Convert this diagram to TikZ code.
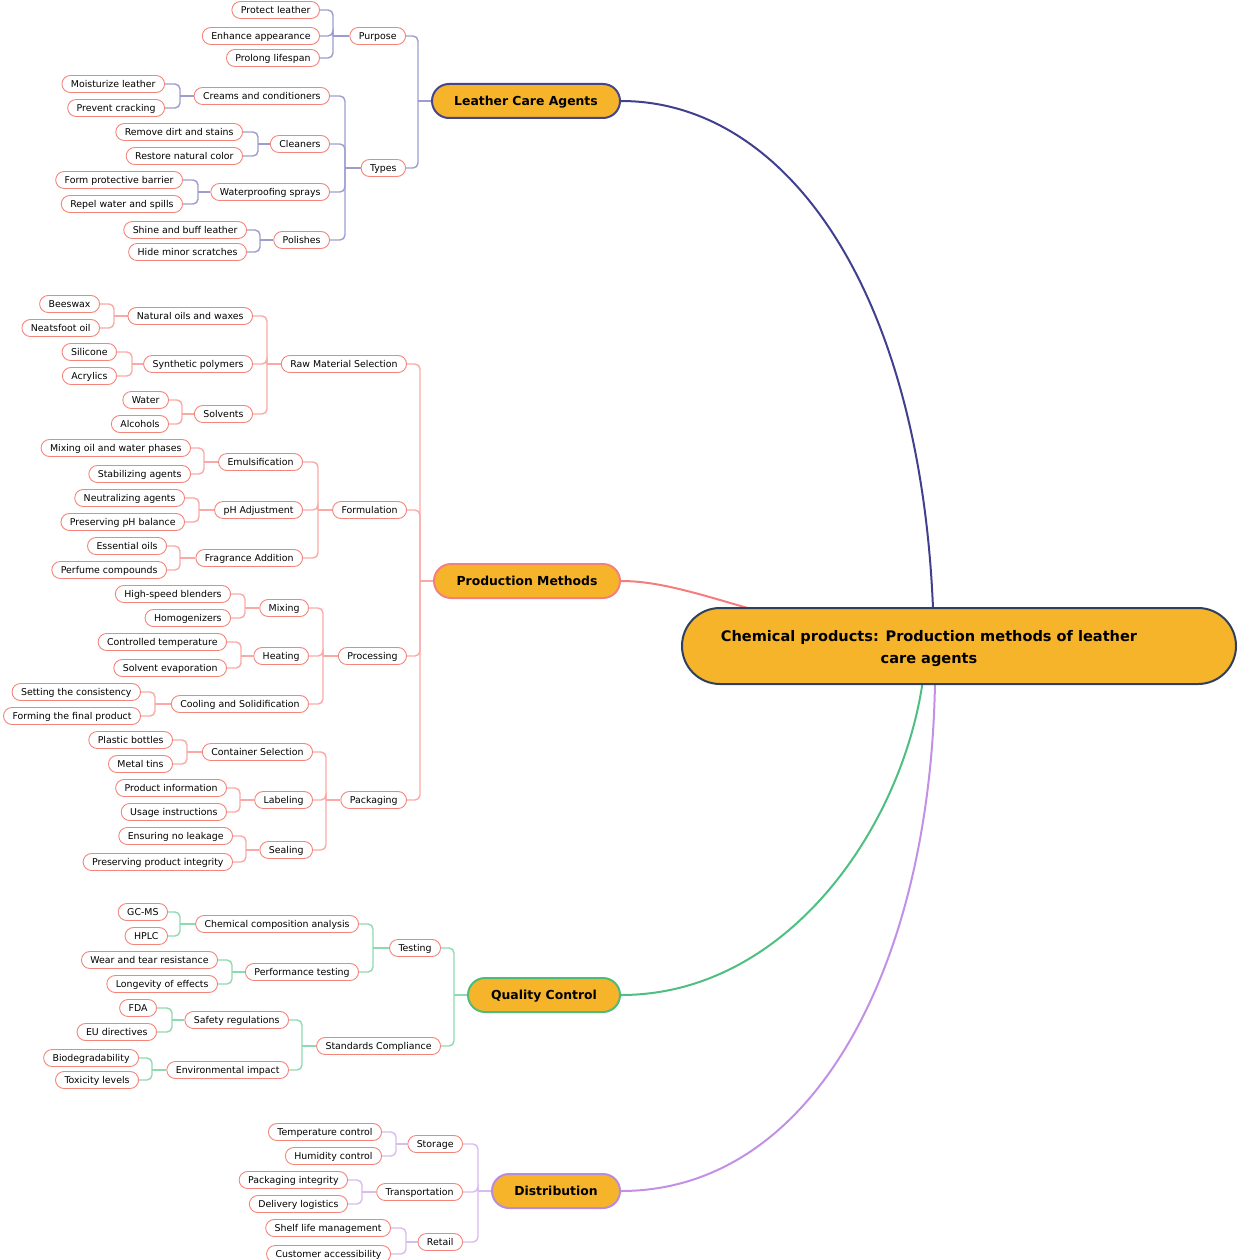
\documentclass[tikz,border=0pt]{standalone}
\usepackage{fontspec}
\setmainfont{DejaVu Sans}
\usetikzlibrary{backgrounds}
\definecolor{rootfill}{HTML}{F6B42B}
\definecolor{rootline}{HTML}{2D4060}
\definecolor{leafc}{HTML}{F4857A}
\definecolor{topA}{HTML}{45458F}
\definecolor{topB}{HTML}{F47F7F}
\definecolor{topC}{HTML}{4DBB7A}
\definecolor{topD}{HTML}{B98BE0}
\definecolor{lnA}{HTML}{9C9CD0}
\definecolor{lnB}{HTML}{F9AAA6}
\definecolor{lnC}{HTML}{8FD9B1}
\definecolor{lnD}{HTML}{D9BBEE}
\definecolor{cA}{HTML}{40408F}
\definecolor{cB}{HTML}{F77C7C}
\definecolor{cC}{HTML}{4DBF80}
\definecolor{cD}{HTML}{C290E6}
\tikzset{
  leaf/.style={draw=leafc, line width=0.9pt, fill=white, rounded corners=8.5pt,
    minimum height=17pt, inner xsep=9pt, inner ysep=0pt, text height=8.5pt, text depth=1.5pt,
    font=\fontsize{9.4}{11}\selectfont, anchor=east},
  topic/.style={fill=rootfill, line width=2pt, rounded corners=17pt, minimum height=34pt,
    inner ysep=0pt, text height=10.5pt, text depth=1.5pt,
    font=\bfseries\fontsize{12.4}{14}\selectfont},
  rootbox/.style={fill=rootfill, draw=rootline, line width=2pt, rounded corners=38pt,
    minimum width=554pt, minimum height=76pt, align=center,
    font=\bfseries\fontsize{14.55}{22}\selectfont},
  lA/.style={draw=lnA, line width=1.4pt, rounded corners=5pt},
  lB/.style={draw=lnB, line width=1.4pt, rounded corners=5pt},
  lC/.style={draw=lnC, line width=1.4pt, rounded corners=5pt},
  lD/.style={draw=lnD, line width=1.4pt, rounded corners=5pt},
  mainlink/.style={line width=2pt},
}
\begin{document}
\begin{tikzpicture}[x=1pt,y=-1pt]
\useasboundingbox (0,0) rectangle (1240,1260);
% root
\node[rootbox] (root) at (959,646) {\rule{0pt}{17pt}Chemical products: Production methods of leather\hspace*{60pt}\\care agents\hspace*{60pt}};
% ---------- Leather Care Agents
\node[topic, draw=topA, minimum width=188pt] (lca) at (526,101) {Leather Care Agents};
\node[leaf] (pur) at (406,36) {Purpose};
\node[leaf] (typ) at (406,168) {Types};
\node[leaf] (pl) at (320,10) {Protect leather};
\node[leaf] (ea) at (320,36) {Enhance appearance};
\node[leaf] (pls) at (320,58) {Prolong lifespan};
\node[leaf] (cc) at (330,96) {Creams and conditioners};
\node[leaf] (cl) at (330,144) {Cleaners};
\node[leaf] (ws) at (330,192) {Waterproofing sprays};
\node[leaf] (po) at (330,240) {Polishes};
\node[leaf] (ml) at (165,84) {Moisturize leather};
\node[leaf] (pc) at (165,108) {Prevent cracking};
\node[leaf] (rd) at (243,132) {Remove dirt and stains};
\node[leaf] (rn) at (243,156) {Restore natural color};
\node[leaf] (fp) at (183,180) {Form protective barrier};
\node[leaf] (rw) at (183,204) {Repel water and spills};
\node[leaf] (sb) at (247,230) {Shine and buff leather};
\node[leaf] (hm) at (247,252) {Hide minor scratches};
% ---------- Production Methods
\node[topic, draw=topB, minimum width=186pt] (pm) at (527,581) {Production Methods};
\node[leaf] (rms) at (407,364) {Raw Material Selection};
\node[leaf] (frm) at (407,510) {Formulation};
\node[leaf] (prc) at (407,656) {Processing};
\node[leaf] (pkg) at (407,800) {Packaging};
\node[leaf] (now) at (253,316) {Natural oils and waxes};
\node[leaf] (syn) at (253,364) {Synthetic polymers};
\node[leaf] (sol) at (253,414) {Solvents};
\node[leaf] (bee) at (100,304) {Beeswax};
\node[leaf] (nea) at (100,328) {Neatsfoot oil};
\node[leaf] (sil) at (117,352) {Silicone};
\node[leaf] (acr) at (117,376) {Acrylics};
\node[leaf] (wat) at (169,400) {Water};
\node[leaf] (alc) at (169,424) {Alcohols};
\node[leaf] (emu) at (303,462) {Emulsification};
\node[leaf] (ph) at (303,510) {pH Adjustment};
\node[leaf] (fra) at (303,558) {Fragrance Addition};
\node[leaf] (mow) at (191,448) {Mixing oil and water phases};
\node[leaf] (sta) at (191,474) {Stabilizing agents};
\node[leaf] (neu) at (185,498) {Neutralizing agents};
\node[leaf] (pph) at (185,522) {Preserving pH balance};
\node[leaf] (eso) at (167,546) {Essential oils};
\node[leaf] (per) at (167,570) {Perfume compounds};
\node[leaf] (mxg) at (309,608) {Mixing};
\node[leaf] (hea) at (309,656) {Heating};
\node[leaf] (coo) at (309,704) {Cooling and Solidification};
\node[leaf] (hsb) at (231,594) {High-speed blenders};
\node[leaf] (hom) at (231,618) {Homogenizers};
\node[leaf] (ctp) at (227,642) {Controlled temperature};
\node[leaf] (sev) at (227,668) {Solvent evaporation};
\node[leaf] (stc) at (141,692) {Setting the consistency};
\node[leaf] (ffp) at (141,716) {Forming the final product};
\node[leaf] (con) at (313,752) {Container Selection};
\node[leaf] (lab) at (313,800) {Labeling};
\node[leaf] (sea) at (313,850) {Sealing};
\node[leaf] (plb) at (173,740) {Plastic bottles};
\node[leaf] (met) at (173,764) {Metal tins};
\node[leaf] (pin) at (227,788) {Product information};
\node[leaf] (usi) at (227,812) {Usage instructions};
\node[leaf] (enl) at (233,836) {Ensuring no leakage};
\node[leaf] (ppi) at (233,862) {Preserving product integrity};
% ---------- Quality Control
\node[topic, draw=topC, minimum width=152pt] (qc) at (544,995) {Quality Control};
\node[leaf] (tst) at (441,948) {Testing};
\node[leaf] (scp) at (441,1046) {Standards Compliance};
\node[leaf] (cca) at (359,924) {Chemical composition analysis};
\node[leaf] (pft) at (359,972) {Performance testing};
\node[leaf] (gcm) at (168,912) {GC-MS};
\node[leaf] (hpl) at (168,936) {HPLC};
\node[leaf] (wtr) at (218,960) {Wear and tear resistance};
\node[leaf] (loe) at (218,984) {Longevity of effects};
\node[leaf] (srg) at (289,1020) {Safety regulations};
\node[leaf] (eni) at (289,1070) {Environmental impact};
\node[leaf] (fda) at (157,1008) {FDA};
\node[leaf] (eud) at (157,1032) {EU directives};
\node[leaf] (bio) at (139,1058) {Biodegradability};
\node[leaf] (tox) at (139,1080) {Toxicity levels};
% ---------- Distribution
\node[topic, draw=topD, minimum width=128pt] (dis) at (556,1191) {Distribution};
\node[leaf] (sto) at (463,1144) {Storage};
\node[leaf] (tra) at (463,1192) {Transportation};
\node[leaf] (ret) at (463,1242) {Retail};
\node[leaf] (tem) at (382,1132) {Temperature control};
\node[leaf] (hum) at (382,1156) {Humidity control};
\node[leaf] (pig) at (348,1180) {Packaging integrity};
\node[leaf] (del) at (348,1204) {Delivery logistics};
\node[leaf] (slm) at (391,1228) {Shelf life management};
\node[leaf] (cus) at (391,1254) {Customer accessibility};
% ---------- spine coordinates
\coordinate (lcaS) at (418,101);
\coordinate (purS) at (333,36);
\coordinate (typS) at (345,168);
\coordinate (ccS) at (180,96);
\coordinate (clS) at (258,144);
\coordinate (wsS) at (198,192);
\coordinate (poS) at (260,240);
\coordinate (pmS) at (420,581);
\coordinate (rmsS) at (267,364);
\coordinate (nowS) at (114,316);
\coordinate (synS) at (132,364);
\coordinate (solS) at (182,414);
\coordinate (frmS) at (318,510);
\coordinate (emuS) at (204,462);
\coordinate (phS) at (199,510);
\coordinate (fraS) at (180,558);
\coordinate (prcS) at (323,656);
\coordinate (mxgS) at (245,608);
\coordinate (heaS) at (241,656);
\coordinate (cooS) at (155,704);
\coordinate (pkgS) at (326,800);
\coordinate (conS) at (187,752);
\coordinate (labS) at (240,800);
\coordinate (seaS) at (246,850);
\coordinate (qcS) at (454,995);
\coordinate (tstS) at (373,948);
\coordinate (ccaS) at (180,924);
\coordinate (pftS) at (232,972);
\coordinate (scpS) at (302,1046);
\coordinate (srgS) at (172,1020);
\coordinate (eniS) at (152,1070);
\coordinate (disS) at (478,1191);
\coordinate (stoS) at (396,1144);
\coordinate (traS) at (362,1192);
\coordinate (retS) at (406,1242);
\coordinate (jA) at (934,646);
\coordinate (jB) at (936,646);
\coordinate (jC) at (926,646);
\coordinate (jD) at (935,646);
\begin{scope}[on background layer]
% main curves
\draw[mainlink, cA] (lca.east) .. controls (790,101) and (930,300) .. (jA);
\draw[mainlink, cB] (pm.east) .. controls (695,581) and (775,630) .. (jB);
\draw[mainlink, cC] (qc.east) .. controls (800,995) and (920,800) .. (jC);
\draw[mainlink, cD] (dis.east) .. controls (820,1191) and (940,950) .. (jD);
% Leather branch
\draw[lA] (lca.west) -- (lcaS);
\foreach \c in {pur,typ} \draw[lA] (lcaS) |- (\c.east);
\draw[lA] (pur.west) -- (purS);
\foreach \c in {pl,ea,pls} \draw[lA] (purS) |- (\c.east);
\draw[lA] (typ.west) -- (typS);
\foreach \c in {cc,cl,ws,po} \draw[lA] (typS) |- (\c.east);
\draw[lA] (cc.west) -- (ccS);
\foreach \c in {ml,pc} \draw[lA] (ccS) |- (\c.east);
\draw[lA] (cl.west) -- (clS);
\foreach \c in {rd,rn} \draw[lA] (clS) |- (\c.east);
\draw[lA] (ws.west) -- (wsS);
\foreach \c in {fp,rw} \draw[lA] (wsS) |- (\c.east);
\draw[lA] (po.west) -- (poS);
\foreach \c in {sb,hm} \draw[lA] (poS) |- (\c.east);
% Production branch
\draw[lB] (pm.west) -- (pmS);
\foreach \c in {rms,frm,prc,pkg} \draw[lB] (pmS) |- (\c.east);
\draw[lB] (rms.west) -- (rmsS);
\foreach \c in {now,syn,sol} \draw[lB] (rmsS) |- (\c.east);
\draw[lB] (now.west) -- (nowS);
\foreach \c in {bee,nea} \draw[lB] (nowS) |- (\c.east);
\draw[lB] (syn.west) -- (synS);
\foreach \c in {sil,acr} \draw[lB] (synS) |- (\c.east);
\draw[lB] (sol.west) -- (solS);
\foreach \c in {wat,alc} \draw[lB] (solS) |- (\c.east);
\draw[lB] (frm.west) -- (frmS);
\foreach \c in {emu,ph,fra} \draw[lB] (frmS) |- (\c.east);
\draw[lB] (emu.west) -- (emuS);
\foreach \c in {mow,sta} \draw[lB] (emuS) |- (\c.east);
\draw[lB] (ph.west) -- (phS);
\foreach \c in {neu,pph} \draw[lB] (phS) |- (\c.east);
\draw[lB] (fra.west) -- (fraS);
\foreach \c in {eso,per} \draw[lB] (fraS) |- (\c.east);
\draw[lB] (prc.west) -- (prcS);
\foreach \c in {mxg,hea,coo} \draw[lB] (prcS) |- (\c.east);
\draw[lB] (mxg.west) -- (mxgS);
\foreach \c in {hsb,hom} \draw[lB] (mxgS) |- (\c.east);
\draw[lB] (hea.west) -- (heaS);
\foreach \c in {ctp,sev} \draw[lB] (heaS) |- (\c.east);
\draw[lB] (coo.west) -- (cooS);
\foreach \c in {stc,ffp} \draw[lB] (cooS) |- (\c.east);
\draw[lB] (pkg.west) -- (pkgS);
\foreach \c in {con,lab,sea} \draw[lB] (pkgS) |- (\c.east);
\draw[lB] (con.west) -- (conS);
\foreach \c in {plb,met} \draw[lB] (conS) |- (\c.east);
\draw[lB] (lab.west) -- (labS);
\foreach \c in {pin,usi} \draw[lB] (labS) |- (\c.east);
\draw[lB] (sea.west) -- (seaS);
\foreach \c in {enl,ppi} \draw[lB] (seaS) |- (\c.east);
% Quality branch
\draw[lC] (qc.west) -- (qcS);
\foreach \c in {tst,scp} \draw[lC] (qcS) |- (\c.east);
\draw[lC] (tst.west) -- (tstS);
\foreach \c in {cca,pft} \draw[lC] (tstS) |- (\c.east);
\draw[lC] (cca.west) -- (ccaS);
\foreach \c in {gcm,hpl} \draw[lC] (ccaS) |- (\c.east);
\draw[lC] (pft.west) -- (pftS);
\foreach \c in {wtr,loe} \draw[lC] (pftS) |- (\c.east);
\draw[lC] (scp.west) -- (scpS);
\foreach \c in {srg,eni} \draw[lC] (scpS) |- (\c.east);
\draw[lC] (srg.west) -- (srgS);
\foreach \c in {fda,eud} \draw[lC] (srgS) |- (\c.east);
\draw[lC] (eni.west) -- (eniS);
\foreach \c in {bio,tox} \draw[lC] (eniS) |- (\c.east);
% Distribution branch
\draw[lD] (dis.west) -- (disS);
\foreach \c in {sto,tra,ret} \draw[lD] (disS) |- (\c.east);
\draw[lD] (sto.west) -- (stoS);
\foreach \c in {tem,hum} \draw[lD] (stoS) |- (\c.east);
\draw[lD] (tra.west) -- (traS);
\foreach \c in {pig,del} \draw[lD] (traS) |- (\c.east);
\draw[lD] (ret.west) -- (retS);
\foreach \c in {slm,cus} \draw[lD] (retS) |- (\c.east);
\end{scope}
\end{tikzpicture}
\end{document}
